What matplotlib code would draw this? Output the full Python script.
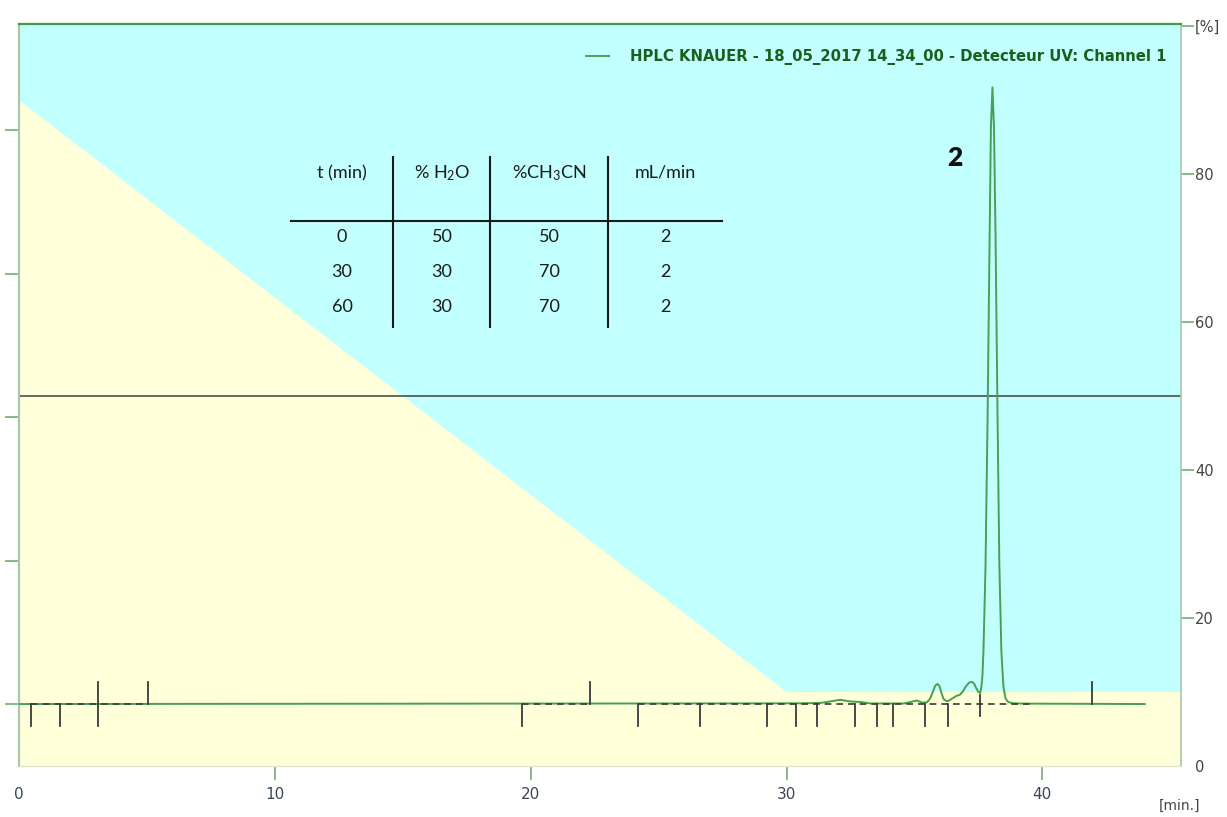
import matplotlib
matplotlib.use("Agg")
import matplotlib.pyplot as plt
from matplotlib.lines import Line2D

plt.rcParams['mathtext.fontset'] = 'custom'
plt.rcParams['mathtext.rm'] = 'Lato'
plt.rcParams['mathtext.default'] = 'rm'

# chromatogram trace (min, signal)
trace_t = [0, 30.4, 31.3, 31.7, 32.1, 32.5, 32.9, 33.3, 34.6, 34.85, 35.1, 35.3,
           35.49, 35.62, 35.73, 35.82, 35.90, 35.98, 36.06, 36.14, 36.24, 36.32,
           36.47, 36.62, 36.78, 36.90, 37.02, 37.14, 37.24, 37.33, 37.42, 37.50,
           37.57, 37.62, 37.66, 37.70, 37.78, 37.86, 37.94, 37.99, 38.05, 38.11,
           38.17, 38.25, 38.32, 38.40, 38.48, 38.56, 38.66, 38.85, 39.3, 44.0]
trace_v = [0, 0.5, 0.7, 1.8, 3.0, 1.8, 1.4, 0.4, 0.4, 1.5, 2.5, 1.0,
           1.2, 4, 9, 13, 14, 12.5, 7.5, 3.5, 2.2, 2.1,
           3.8, 5.5, 6.5, 9, 12.5, 15, 15.5, 14.3, 11, 8.5,
           7.7, 12, 20, 38, 97, 200, 327, 402, 430, 402,
           327, 200, 97, 36, 12, 4, 1.5, 0.5, 0.3, 0]

# integration marks
down_marks = [0.47, 1.60, 19.66, 24.20, 26.62, 29.24, 30.38, 31.20, 32.68,
              33.54, 34.17, 35.42, 36.32]
up_marks = [5.04, 22.32, 41.95]
cross_marks = [3.09, 37.57]
base_start = [0.47, 19.66, 24.20]
base_end = [5.04, 22.32, 39.6]

# solvent gradient profile
grad_t = [0, 30, 60]
grad_pct = [90, 10, 10]
ref_level = 50

# method table
table_header = ['t (min)', r'% H$_\mathrm{2}$O', r'%CH$_\mathrm{3}$CN', 'mL/min']
table_rows = [['0', '50', '50', '2'],
              ['30', '30', '70', '2'],
              ['60', '30', '70', '2']]

peak_label = '2'
legend_label = 'HPLC KNAUER - 18_05_2017 14_34_00 - Detecteur UV: Channel 1'

W, H = 1227, 817
fig = plt.figure(figsize=(W / 100, H / 100), dpi=100)


def fx(x):
    return x / W


def fy(y):
    return 1 - y / H


ax_g = fig.add_axes([fx(19), fy(766), fx(1181) - fx(19), fy(24) - fy(766)])
ax_c = ax_g.twinx()
ax_g.yaxis.tick_right()
ax_c.yaxis.tick_left()

cyan = '#c2ffff'
yellow = '#ffffd9'
green_tick = '#74ac78'

# gradient background
ax_g.set_facecolor(cyan)
ax_g.fill_between(grad_t, 0, grad_pct, color=yellow, lw=0)
ax_g.axhline(ref_level, color='#5a5a5a', lw=1.3)
ax_g.set_xlim(0, 45.42)
ax_g.set_ylim(0, 100.3)
for s in ax_g.spines.values():
    s.set_visible(False)

ax_g.set_xticks([0, 10, 20, 30, 40])
ax_g.tick_params(axis='x', length=10, width=1.2, color=green_tick, labelsize=11,
                 labelcolor='#3a4656', pad=5)
ax_g.xaxis.get_major_ticks()[0].tick1line.set_visible(False)
ax_g.set_yticks([0, 20, 40, 60, 80, 100], ['0', '20', '40', '60', '80', '[%]'])
ax_g.tick_params(axis='y', length=9, width=1.2, color=green_tick, labelsize=10.5,
                 labelcolor='#444444', pad=1)
ax_g.yaxis.get_major_ticks()[0].tick2line.set_visible(False)

# chromatogram
ax_c.set_ylim(-43.2, 474.2)
ax_c.set_yticks([0, 100, 200, 300, 400], [])
ax_c.tick_params(axis='y', length=10, width=1.2, color=green_tick)

mark_col = '#3a3a3a'
ax_c.plot(trace_t, trace_v, color='#46a051', lw=1.4, zorder=4, label=legend_label)
for a, b in zip(base_start, base_end):
    ax_c.plot([a, b], [0, 0], color=mark_col, lw=1.2, ls=(0, (4, 3)), zorder=5)
for t in down_marks:
    ax_c.plot([t, t], [0, -15.3], color=mark_col, lw=1.3, zorder=5)
for t in up_marks:
    ax_c.plot([t, t], [0, 15.3], color=mark_col, lw=1.3, zorder=5)
ax_c.plot([cross_marks[0]] * 2, [15.3, -15.3], color=mark_col, lw=1.3, zorder=5)
ax_c.plot([cross_marks[1]] * 2, [6.3, -8.4], color=mark_col, lw=1.3, zorder=5)

ax_c.text(36.6, 381, peak_label, ha='center', va='center', fontsize=19,
          fontweight='heavy', family='Lato', color='#111111')

ax_c.spines['top'].set_color('#3f9b45')
ax_c.spines['top'].set_linewidth(1.6)
ax_c.spines['left'].set_color('#a9c6a9')
ax_c.spines['left'].set_linewidth(1.6)
ax_c.spines['right'].set_color('#a9c6a9')
ax_c.spines['right'].set_linewidth(1.2)
ax_c.spines['bottom'].set_color('#dfe6cf')
ax_c.spines['bottom'].set_linewidth(1)

ax_c.legend(loc='center right', bbox_to_anchor=(fx(1166), fy(57)),
            bbox_transform=fig.transFigure, frameon=False, borderpad=0,
            borderaxespad=0, handlelength=1.5, handletextpad=1.4,
            prop={'weight': 'bold', 'size': 10.7}, labelcolor='#1d5e1d')

fig.text(fx(1180), fy(806), '[min.]', ha='center', va='center', fontsize=10,
         color='#444444')

# method table
col_x = [342, 442, 549, 665]
row_y = [237, 272, 307]
for x, h in zip(col_x, table_header):
    fig.text(fx(x), fy(173), h, ha='center', va='center', fontsize=13,
             family='Lato', color='#1a1a1a')
for y, row in zip(row_y, table_rows):
    for x, v in zip(col_x, row):
        fig.text(fx(x), fy(y), v, ha='center', va='center', fontsize=13,
                 family='Lato', color='#1a1a1a')
fig.add_artist(Line2D([fx(291), fx(722)], [fy(221), fy(221)],
                      transform=fig.transFigure, color='#1a1a1a', lw=1.5))
for x in [393, 490, 608]:
    fig.add_artist(Line2D([fx(x), fx(x)], [fy(157), fy(327)],
                          transform=fig.transFigure, color='#1a1a1a', lw=1.5))

fig.savefig('out.png', dpi=100)
